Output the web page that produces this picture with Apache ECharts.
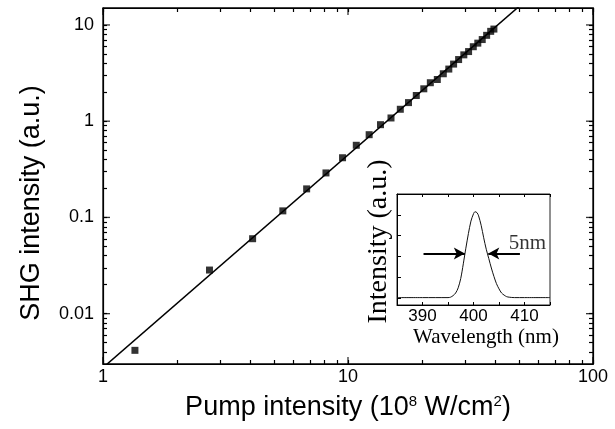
<!DOCTYPE html>
<html><head><meta charset="utf-8">
<script src="https://cdn.jsdelivr.net/npm/echarts@6/dist/echarts.min.js"></script>
<style>html,body{margin:0;padding:0;background:#fff}#wrap{position:relative;width:615px;height:429px}#c{position:absolute;left:0;top:0;width:615px;height:429px}#inset{position:absolute;left:0;top:0;width:615px;height:429px;pointer-events:none}</style>
</head><body><div id="wrap"><div id="c"></div><div id="inset"></div></div>
<script>
// ---- main plot data ----
const pumpIntensity = [1.35, 2.72, 4.08, 5.42, 6.78, 8.13, 9.50, 10.81, 12.2, 13.57, 14.98, 16.35, 17.66, 19.0, 20.39, 21.68, 23.15, 24.49, 25.79, 26.98, 28.28, 29.7, 31.06, 32.46, 33.87, 35.31, 36.8, 38.23, 39.4];
const shgIntensity = [0.00416, 0.0284, 0.0601, 0.117, 0.198, 0.290, 0.417, 0.562, 0.724, 0.920, 1.08, 1.33, 1.56, 1.85, 2.17, 2.51, 2.71, 3.11, 3.48, 3.92, 4.37, 4.89, 5.29, 5.94, 6.47, 7.05, 7.80, 8.58, 9.06];
const fitPump = [1, 60];
const fitShg = [0.00275, 23.4];
const xMajorTicks = [1, 10, 100];
const xMinorTicks = [2, 3, 4, 5, 6, 7, 8, 9, 20, 30, 40, 50, 60, 70, 80, 90];
const yMajorTicks = [0.01, 0.1, 1, 10];
const yMinorTicks = [0.004, 0.005, 0.006, 0.007, 0.008, 0.009, 0.02, 0.03, 0.04, 0.05, 0.06, 0.07, 0.08, 0.09, 0.2, 0.3, 0.4, 0.5, 0.6, 0.7, 0.8, 0.9, 2, 3, 4, 5, 6, 7, 8, 9];
const xRange = [1, 100];
const yRange = [0.003, 15];
// ---- inset data ----
const wavelength = [385, 390, 395, 395.5, 396, 396.5, 397, 397.5, 398, 398.5, 399, 399.5, 400, 400.3, 400.7, 401, 401.5, 402, 402.5, 403, 403.5, 404, 404.5, 405, 405.5, 406, 406.5, 407, 408, 410, 415];
const spectrum = [0.006, 0.006, 0.006, 0.01, 0.025, 0.05, 0.10, 0.19, 0.33, 0.48, 0.62, 0.74, 0.81, 0.83, 0.82, 0.79, 0.70, 0.58, 0.47, 0.38, 0.29, 0.21, 0.14, 0.09, 0.05, 0.03, 0.015, 0.01, 0.006, 0.006, 0.006];
const insetXRange = [385, 415];
const insetYRange = [-0.065, 1.0];
const insetXTicks = [385, 390, 395, 400, 405, 410, 415];
const insetXLabels = [390, 400, 410];
const insetYTicks = [0, 0.2, 0.4, 0.6, 0.8];
const fwhmLevel = 0.43;
const fwhmLeftArrow = [390.2, 398.3];
const fwhmRightArrow = [409.1, 402.9];
const fwhmText = '5nm';
const fwhmTextAt = [406.9, 0.43];

const SANS = 'Liberation Sans, Arial, sans-serif';
const SERIF = 'Liberation Serif, Times New Roman, serif';
const BLK = '#000';

function tickAxis(base, ticks, len, width, labels) {
  return Object.assign({
    axisLine: {show: true, onZero: false, lineStyle: {color: BLK, width: width}},
    axisTick: {show: true, inside: true, length: len, customValues: ticks, lineStyle: {color: BLK, width: width}},
    axisLabel: labels ? labels : {show: false},
    splitLine: {show: false}
  }, base);
}
// longer major ticks, drawn as thin rect symbols at the axis values through the axes' scales
function tickSeries(data, size, offset) {
  return {type: 'scatter', data: data, symbol: 'rect', symbolSize: size, symbolOffset: offset,
    itemStyle: {color: BLK}, silent: true, clip: false};
}

const xAllTicks = xMajorTicks.concat(xMinorTicks);
const yAllTicks = yMajorTicks.concat(yMinorTicks);

// ================= main chart =================
const mainOption = {
  animation: false,
  grid: {left: 103, top: 8, width: 490, height: 356, show: true, borderColor: BLK, borderWidth: 1.3},
  xAxis: [
    tickAxis({type: 'log', min: xRange[0], max: xRange[1], position: 'bottom',
      name: 'Pump intensity (10{sup|8} W/cm{sup|2})', nameLocation: 'middle', nameGap: 30,
      nameTextStyle: {fontFamily: SANS, fontSize: 27, color: BLK, rich: {sup: {fontFamily: SANS, fontSize: 15, color: BLK, verticalAlign: 'top', padding: [0, 0, 10, 0]}}}
    }, xAllTicks, 4, 1.2, {show: true, customValues: xMajorTicks, margin: 4, fontFamily: SANS, fontSize: 18, color: BLK, formatter: v => String(Math.round(v))}),
    tickAxis({type: 'log', min: xRange[0], max: xRange[1], position: 'top'}, xAllTicks, 4, 1.2)
  ],
  yAxis: [
    tickAxis({type: 'log', min: yRange[0], max: yRange[1], position: 'left',
      name: 'SHG intensity (a.u.)', nameLocation: 'middle', nameGap: 58,
      nameTextStyle: {fontFamily: SANS, fontSize: 27, color: BLK, padding: [0, 34, 0, 0]}
    }, yAllTicks, 4, 1.2, {show: true, customValues: yMajorTicks, margin: 9, fontFamily: SANS, fontSize: 18, color: BLK, formatter: v => String(v)}),
    tickAxis({type: 'log', min: yRange[0], max: yRange[1], position: 'right'}, yAllTicks, 4, 1.2)
  ],
  series: [
    {type: 'line', data: fitPump.map((x, i) => [x, fitShg[i]]),
      showSymbol: false, symbol: 'none', clip: true, lineStyle: {color: BLK, width: 1.5}, silent: true},
    {type: 'scatter', data: pumpIntensity.map((x, i) => [x, shgIntensity[i]]),
      symbol: 'rect', symbolSize: 7, itemStyle: {color: BLK}, silent: true},
    tickSeries(xMajorTicks.map(v => [v, yRange[0]]), [1.3, 7], [0, -3.5]),
    tickSeries(xMajorTicks.map(v => [v, yRange[1]]), [1.3, 7], [0, 3.5]),
    tickSeries(yMajorTicks.map(v => [xRange[0], v]), [7, 1.3], [3.5, 0]),
    tickSeries(yMajorTicks.map(v => [xRange[1], v]), [7, 1.3], [-3.5, 0])
  ]
};

// ================= inset chart (separate instance over the main one) =================
const insetOption = {
  animation: false,
  backgroundColor: 'transparent',
  grid: {left: 397, top: 194, width: 153, height: 111, show: true, borderColor: '#222', borderWidth: 1},
  xAxis: [
    tickAxis({type: 'value', min: insetXRange[0], max: insetXRange[1], position: 'bottom',
      name: 'Wavelength (nm)', nameLocation: 'middle', nameGap: 22,
      nameTextStyle: {fontFamily: SERIF, fontSize: 21, color: BLK, padding: [0, 0, 0, 25]}
    }, insetXTicks, 3, 1, {show: true, customValues: insetXLabels, margin: 3, fontFamily: SANS, fontSize: 17, color: BLK}),
    tickAxis({type: 'value', min: insetXRange[0], max: insetXRange[1], position: 'top'}, insetXTicks, 3, 1)
  ],
  yAxis: [
    tickAxis({type: 'value', min: insetYRange[0], max: insetYRange[1], position: 'left',
      name: 'Intensity (a.u.)', nameLocation: 'middle', nameGap: 4,
      nameTextStyle: {fontFamily: SERIF, fontSize: 28, color: BLK, padding: [0, 0, 0, 16]}
    }, insetYTicks, 4, 1)
  ],
  series: [
    {type: 'line', data: wavelength.map((x, i) => [x, spectrum[i]]),
      showSymbol: false, symbol: 'none', smooth: 0.3, clip: true, lineStyle: {color: '#111', width: 1}, silent: true,
      markLine: {
        silent: true, animation: false,
        symbol: ['none', 'arrow'], symbolSize: [9, 11],
        lineStyle: {color: BLK, width: 2, type: 'solid'},
        label: {show: false},
        emphasis: {disabled: true},
        data: [
          [{coord: [fwhmLeftArrow[0], fwhmLevel]}, {coord: [fwhmLeftArrow[1], fwhmLevel]}],
          [{coord: [fwhmRightArrow[0], fwhmLevel]}, {coord: [fwhmRightArrow[1], fwhmLevel]}]
        ]
      }
    },
    {type: 'scatter', data: [fwhmTextAt], symbolSize: 0, silent: true,
      label: {show: true, formatter: fwhmText, position: [0, 0], align: 'left', verticalAlign: 'bottom', offset: [0, 1],
        fontFamily: SERIF, fontSize: 21, color: BLK}}
  ]
};

const mainChart = echarts.init(document.getElementById('c'));
mainChart.setOption(mainOption);
const insetChart = echarts.init(document.getElementById('inset'));
insetChart.setOption(insetOption);
</script></body></html>
